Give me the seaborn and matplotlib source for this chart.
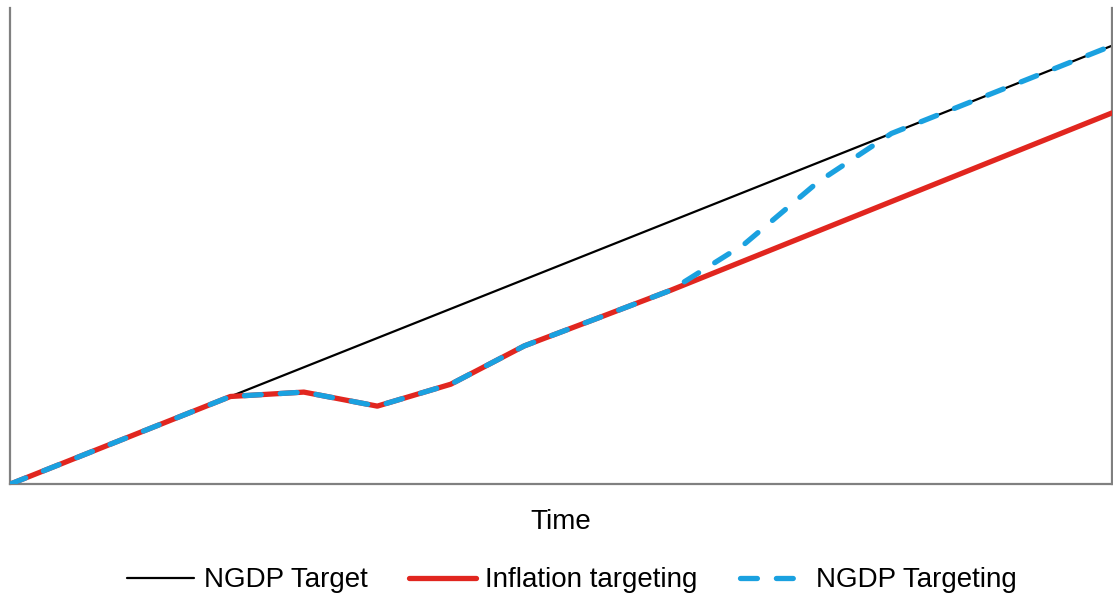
import numpy as np
import pandas as pd
import matplotlib
matplotlib.use("Agg")
import matplotlib.pyplot as plt
import seaborn as sns

# time periods and the three paths (arbitrary units)
time = list(range(16))
ngdp_target = [0, 10, 20, 30, 40, 50, 60, 70, 80, 90, 100, 110, 120, 130, 140, 150]
inflation_targeting = [0, 10, 20, 30, 31.5, 26.7, 34.2, 47.3, 56.8, 66.4,
                       76.5, 86.6, 96.7, 106.8, 116.9, 127]
ngdp_targeting = [0, 10, 20, 30, 31.5, 26.7, 34.2, 47.3, 56.8, 66.4,
                  82.2, 103.4, 120, 130, 140, 150]

df = pd.DataFrame({"Time": time, "target": ngdp_target,
                   "infl": inflation_targeting, "ngdp": ngdp_targeting})

sns.set_theme(style="white")
plt.rcParams["font.family"] = ["Liberation Sans", "DejaVu Sans"]
plt.rcParams["text.color"] = "black"
plt.rcParams["axes.labelcolor"] = "black"

fig = plt.figure(figsize=(11.13, 5.97), dpi=100)
ax = fig.add_axes([0.009, 0.189, 0.990, 0.798])

sns.lineplot(data=df, x="Time", y="target", ax=ax, color="black",
             linewidth=1.6, label="NGDP Target", zorder=2)
sns.lineplot(data=df, x="Time", y="infl", ax=ax, color="#e1261f",
             linewidth=3.8, label="Inflation targeting", zorder=3)
sns.lineplot(data=df, x="Time", y="ngdp", ax=ax, color="#1aa1e0",
             linewidth=3.8, label="NGDP Targeting", zorder=4)
blue = ax.lines[-1]
blue.set_dashes((3.2, 3.6))
blue.set_dash_capstyle("round")

ax.set_xlim(0, 15)
ax.set_ylim(0, 163)
ax.set_xticks([])
ax.set_yticks([])
ax.set_ylabel("")
ax.set_xlabel("Time", fontsize=20, labelpad=18)

for side in ["left", "bottom", "right"]:
    ax.spines[side].set_visible(True)
    ax.spines[side].set_color("#808080")
    ax.spines[side].set_linewidth(1.6)
ax.spines["top"].set_visible(False)

ax.legend(loc="upper center", bbox_to_anchor=(0.51, -0.122), ncol=3,
          frameon=False, fontsize=20, handlelength=2.4, columnspacing=1.5,
          handletextpad=0.35)

fig.savefig("out.png", dpi=100)
